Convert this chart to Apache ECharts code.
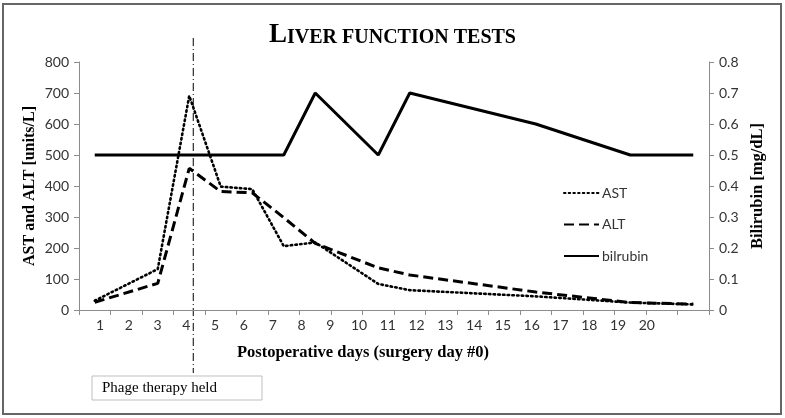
<!DOCTYPE html>
<html><head><meta charset="utf-8">
<script src="https://cdn.jsdelivr.net/npm/echarts@6/dist/echarts.min.js"></script>
<style>html,body{margin:0;padding:0;background:#fff}#c{width:785px;height:418px}</style>
</head><body><div id="c"></div>
<script>
const days = ['1','2','3','4','5','6','7','8','9','10','11','12','13','14','15','16','17','18','19','20'];
const dayLabels = [1,2,3,4,5,6,7,8,9,10,11,12,13,14,15,16,17,18,19,20];
const ast = [30, null, 132, 691, 398, 390, 206, 218, null, 84, 64, null, null, null, 44, null, null, 24, null, 18];
const alt = [25, null, 86, 457, 382, 378, 298, 215, null, 136, 113, null, null, null, 58, null, null, 24, null, 19];
const bilirubin = [0.5, null, 0.5, 0.5, 0.5, 0.5, 0.5, 0.7, null, 0.5, 0.7, null, null, null, 0.6, null, null, 0.5, null, 0.5];
const phageDay = '4';
const phageText = 'Phage therapy held';

const SERIF = 'Liberation Serif';
const SANS = 'Lato';
const chart = echarts.init(document.getElementById('c'), null, {renderer: 'canvas'});
const axisGray = '#8c8c8c';
const option = {
  animation: false,
  backgroundColor: '#fff',
  title: {
    text: '{a|L}{b|IVER FUNCTION TESTS}',
    left: 'center', top: 18,
    textStyle: {
      rich: {
        a: {fontFamily: SERIF, fontWeight: 'bold', fontSize: 27, color: '#000', verticalAlign: 'bottom', lineHeight: 26},
        b: {fontFamily: SERIF, fontWeight: 'bold', fontSize: 20, color: '#000', verticalAlign: 'bottom', lineHeight: 26, padding: [0,0,1,0]}
      }
    }
  },
  legend: {
    orient: 'vertical', left: 558, top: 181, itemWidth: 35, itemHeight: 14, itemGap: 17.5,
    itemStyle: {opacity: 0},
    textStyle: {fontFamily: SANS, fontSize: 14, color: '#333', padding: [0,0,0,-2]},
    data: ['AST', 'ALT', 'bilrubin']
  },
  grid: {left: 79, right: 76, top: 62, bottom: 108, containLabel: false},
  xAxis: [{
    type: 'category', data: days, boundaryGap: true,
    name: 'Postoperative days (surgery day #0)', nameLocation: 'middle', nameGap: 34, nameMoveOverlap: false,
    nameTextStyle: {fontFamily: SERIF, fontWeight: 'bold', fontSize: 16.5, color: '#000', padding: [0, 62, 0, 0]},
    axisLine: {lineStyle: {color: axisGray, width: 1}},
    axisTick: {show: true, length: 5, lineStyle: {color: axisGray}},
    axisLabel: {show: false},
    splitLine: {show: false}
  }, {
    type: 'value', position: 'bottom', min: 0.27, max: 22.16,
    axisLine: {show: false}, axisTick: {show: false}, splitLine: {show: false},
    axisLabel: {customValues: dayLabels, fontFamily: SANS, fontSize: 14, color: '#333', margin: 8,
      formatter: v => String(Math.round(v))}
  }],
  yAxis: [{
    type: 'value', min: 0, max: 800, interval: 100,
    name: 'AST and ALT [units/L]', nameLocation: 'middle', nameGap: 41, nameRotate: 90, nameMoveOverlap: false,
    nameTextStyle: {fontFamily: SERIF, fontWeight: 'bold', fontSize: 16, color: '#000'},
    axisLine: {show: true, lineStyle: {color: axisGray}},
    axisTick: {show: true, length: 5, lineStyle: {color: axisGray}},
    axisLabel: {fontFamily: SANS, fontSize: 14, color: '#333', margin: 10},
    splitLine: {show: false}
  }, {
    type: 'value', min: 0, max: 0.8, interval: 0.1, position: 'right',
    name: 'Bilirubin [mg/dL]', nameLocation: 'middle', nameGap: 40, nameRotate: 90, nameMoveOverlap: false,
    nameTextStyle: {fontFamily: SERIF, fontWeight: 'bold', fontSize: 16.5, color: '#000'},
    axisLine: {show: true, lineStyle: {color: axisGray}},
    axisTick: {show: true, length: 5, lineStyle: {color: axisGray}},
    axisLabel: {fontFamily: SANS, fontSize: 14, color: '#333', margin: 10},
    splitLine: {show: false}
  }],
  series: [{
    name: 'AST', type: 'line', data: ast, xAxisIndex: 0, yAxisIndex: 0, connectNulls: true,
    symbol: 'none', lineStyle: {color: '#000', width: 2.6, type: [1.5, 3.2], cap: 'round'}, itemStyle: {color: '#000'}
  }, {
    name: 'ALT', type: 'line', data: alt, xAxisIndex: 0, yAxisIndex: 0, connectNulls: true,
    symbol: 'none', lineStyle: {color: '#000', width: 3, type: [10, 5]}, itemStyle: {color: '#000'}
  }, {
    name: 'bilrubin', type: 'line', data: bilirubin, xAxisIndex: 0, yAxisIndex: 1, connectNulls: true,
    symbol: 'none', lineStyle: {color: '#000', width: 3}, itemStyle: {color: '#000'}
  }]
};
chart.setOption(option);
const px = chart.convertToPixel({xAxisIndex: 0}, phageDay) + 4;
chart.setOption({
  graphic: [
    {type: 'rect', shape: {x: 3, y: 4, width: 778, height: 410}, style: {fill: 'none', stroke: '#666', lineWidth: 2}, silent: true},
    {type: 'line', shape: {x1: px, y1: 38, x2: px, y2: 373}, style: {stroke: '#000', lineWidth: 1, lineDash: [8, 3, 1, 3]}, silent: true},
    {type: 'rect', shape: {x: 92, y: 376, width: 170, height: 24}, style: {fill: '#fff', stroke: '#bfbfbf', lineWidth: 1}, silent: true},
    {type: 'text', x: 102, y: 388, style: {text: phageText, fontFamily: SERIF, fontSize: 15, fill: '#000', verticalAlign: 'middle'}, silent: true}
  ]
});
</script></body></html>
